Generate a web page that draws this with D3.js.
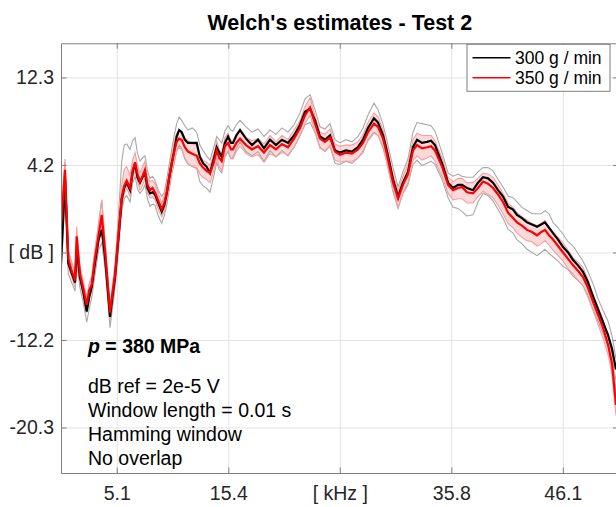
<!DOCTYPE html>
<html>
<head>
<meta charset="utf-8">
<script src="https://cdn.jsdelivr.net/npm/d3@7"></script>
<style>
  body { margin: 0; background: #fff; }
  svg text { font-family: "Liberation Sans", Arial, Helvetica, sans-serif; fill: #262626; }
</style>
</head>
<body>
<svg id="chart"></svg>
<script>
// frequency grid [kHz]
const freqs = [
  0.00, 0.37, 0.67, 0.98, 1.29, 1.44, 1.74, 2.05, 2.36, 2.60,
  2.82, 3.12, 3.45, 3.74, 4.04, 4.30, 4.50, 4.73, 4.96, 5.26,
  5.57, 5.80, 6.03, 6.34, 6.57, 6.80, 7.03, 7.25, 7.48, 7.71,
  7.94, 8.17, 8.40, 8.63, 8.94, 9.25, 9.48, 9.71, 9.94, 10.17,
  10.40, 10.62, 10.85, 11.08, 11.37, 11.66, 12.06, 12.46, 12.75, 13.04,
  13.36, 13.68, 14.00, 14.30, 14.53, 14.76, 15.05, 15.34, 15.60, 15.79,
  16.10, 16.44, 16.99, 17.54, 18.09, 18.64, 19.19, 19.74, 20.29, 20.84,
  21.40, 21.95, 22.41, 22.87, 23.32, 23.78, 24.24, 24.70, 25.16, 25.62,
  26.17, 26.72, 27.27, 27.73, 28.19, 28.74, 29.11, 29.57, 29.91, 30.49,
  30.95, 31.40, 31.86, 32.32, 32.69, 33.15, 33.61, 33.98, 34.34, 34.99,
  35.54, 36.00, 36.46, 36.82, 37.28, 37.83, 38.29, 38.75, 39.21, 39.67,
  40.13, 40.59, 41.05, 41.51, 41.87, 42.33, 42.79, 43.25, 43.71, 44.08,
  44.44, 44.81, 45.18, 45.64, 46.10, 46.56, 47.02, 47.47, 47.93, 48.39,
  48.85, 49.31, 49.77, 50.23, 50.60, 50.96
];

// mean Welch estimate, 300 g/min [dB]
const mean300 = [
  -5.0, 2.8, -5.0, -5.9, -6.8, -3.7, -6.3, -7.7, -9.5, -8.1,
  -7.2, -5.0, -2.8, -1.9, -4.4, -7.5, -10.0, -8.1, -6.3, -2.8,
  0.9, 2.0, 2.5, 1.8, 3.4, 4.3, 3.0, 2.5, 3.0, 3.4,
  2.0, 1.5, 1.6, 1.4, 0.6, -0.2, 0.4, 1.5, 3.0, 4.3,
  5.5, 6.8, 7.4, 7.2, 6.5, 6.2, 6.2, 6.2, 4.9, 4.3,
  4.0, 3.4, 4.6, 5.8, 5.3, 4.9, 6.2, 6.8, 6.2, 6.2,
  6.9, 7.4, 6.6, 6.0, 6.5, 5.7, 6.5, 6.0, 6.5, 6.2,
  6.9, 7.9, 9.1, 9.4, 8.3, 6.8, 6.5, 6.9, 5.5, 5.3,
  5.5, 5.4, 5.8, 6.5, 7.6, 8.5, 8.1, 6.9, 5.5, 2.8,
  1.2, 2.5, 3.5, 5.8, 6.5, 6.2, 6.3, 6.4, 6.0, 4.3,
  2.5, 2.0, 2.3, 2.3, 2.0, 1.8, 2.5, 3.0, 2.9, 2.5,
  1.8, 1.2, 0.25, 0.0, -0.5, -0.8, -1.2, -1.4, -1.6, -1.4,
  -1.2, -1.7, -2.2, -2.8, -3.5, -4.0, -4.7, -5.2, -5.8, -6.8,
  -8.1, -9.3, -10.5, -11.7, -13.0, -14.9
];

// mean Welch estimate, 350 g/min [dB]
const mean350 = [
  -1.6, 3.7, -4.6, -5.7, -6.6, -2.5, -6.0, -7.4, -8.9, -7.5,
  -7.0, -4.6, -2.4, -0.5, -3.8, -7.0, -9.6, -7.8, -6.1, -2.6,
  1.1, 2.2, 2.7, 2.0, 3.6, 4.4, 3.3, 2.6, 3.1, 3.7,
  2.3, 1.8, 2.0, 1.6, 0.8, 0.0, 0.6, 1.6, 3.0, 4.3,
  5.4, 6.3, 6.6, 6.5, 5.8, 5.4, 5.2, 5.0, 4.3, 3.9,
  3.6, 3.4, 4.3, 5.5, 4.8, 4.5, 5.9, 6.2, 5.6, 5.6,
  6.2, 6.6, 6.0, 5.6, 5.9, 5.3, 6.0, 5.6, 6.1, 5.8,
  6.6, 7.6, 8.8, 9.5, 8.0, 6.6, 6.3, 6.7, 5.4, 5.1,
  5.3, 5.2, 5.6, 6.2, 7.2, 8.0, 7.7, 6.6, 5.2, 2.5,
  1.0, 2.3, 3.3, 5.5, 6.0, 5.7, 5.8, 5.9, 5.5, 4.0,
  2.3, 1.8, 2.0, 2.1, 1.6, 1.5, 2.0, 2.6, 2.4, 2.0,
  1.4, 0.7, -0.3, -0.8, -1.2, -1.5, -1.9, -2.1, -2.4, -2.1,
  -1.9, -2.4, -2.8, -3.4, -4.0, -4.6, -5.2, -5.7, -6.3, -7.3,
  -8.6, -9.8, -11.0, -12.6, -14.4, -18.2
];

// spread of the single 300 g/min runs above / below their mean [dB]
const grayUp = [
  2.5, 1.6, 1.2, 1.0, 0.9, 1.4, 1.0, 0.9, 1.0, 1.2,
  1.0, 1.2, 1.5, 2.8, 1.6, 1.0, 0.8, 1.0, 1.2, 2.0,
  3.5, 4.0, 3.6, 3.8, 3.0, 2.4, 2.2, 2.0, 1.8, 1.6,
  1.6, 1.4, 1.5, 1.3, 1.2, 1.4, 1.2, 1.3, 1.2, 1.3,
  1.4, 1.2, 1.2, 1.1, 1.3, 1.2, 1.4, 1.0, 1.1, 1.2,
  1.0, 1.2, 1.1, 1.0, 1.2, 1.3, 1.1, 1.0, 1.2, 1.1,
  1.0, 0.9, 1.1, 1.2, 1.0, 1.1, 0.9, 1.0, 1.1, 1.0,
  1.0, 1.1, 1.2, 1.3, 1.0, 0.9, 1.0, 1.1, 1.0, 0.9,
  1.0, 0.9, 1.0, 1.1, 1.2, 1.4, 1.2, 1.0, 1.0, 1.1,
  0.9, 1.0, 1.2, 1.4, 1.6, 1.8, 1.6, 1.4, 1.3, 1.0,
  0.9, 1.1, 1.0, 0.8, 1.0, 1.2, 1.0, 0.9, 1.0, 1.1,
  1.0, 0.9, 1.0, 1.1, 1.2, 1.0, 1.1, 1.0, 1.2, 1.0,
  1.1, 1.3, 1.0, 1.1, 1.2, 1.0, 1.3, 1.1, 1.0, 1.0,
  1.2, 1.0, 1.1, 1.3, 1.2, 1.0
];
const grayDn = [
  1.5, 1.5, 1.0, 0.9, 0.8, 1.2, 1.0, 1.0, 1.0, 1.1,
  1.0, 1.1, 1.0, 1.2, 1.0, 1.0, 1.0, 1.1, 1.0, 1.2,
  1.1, 1.0, 1.2, 1.1, 1.0, 1.2, 1.1, 1.0, 1.2, 1.1,
  1.0, 1.2, 1.1, 1.0, 1.2, 1.1, 1.0, 1.1, 1.2, 1.0,
  1.2, 1.3, 1.4, 1.5, 1.8, 2.0, 2.2, 2.4, 2.3, 2.1,
  2.0, 1.8, 1.6, 1.4, 1.6, 1.5, 1.3, 1.4, 1.5, 1.3,
  1.2, 1.1, 1.2, 1.0, 1.1, 1.2, 1.0, 1.1, 1.0, 1.2,
  1.1, 1.0, 1.2, 1.3, 1.1, 1.0, 1.1, 1.0, 1.2, 1.1,
  1.0, 1.1, 1.0, 1.2, 1.1, 1.3, 1.2, 1.1, 1.0, 1.2,
  1.1, 1.0, 1.2, 1.6, 1.9, 2.1, 2.0, 1.9, 1.8, 1.5,
  1.4, 1.8, 2.2, 2.5, 2.6, 2.3, 1.8, 1.5, 1.6, 1.7,
  1.8, 2.0, 2.1, 2.2, 2.3, 2.4, 2.5, 2.6, 2.7, 2.6,
  2.5, 2.4, 2.2, 2.0, 1.8, 1.6, 1.5, 1.4, 1.3, 1.2,
  1.2, 1.1, 1.0, 1.0, 1.0, 1.0
];

// spread of the single 350 g/min runs above / below their mean [dB]
const pinkUp = [
  1.2, 1.0, 0.8, 0.6, 0.7, 0.9, 0.6, 0.7, 0.8, 0.6,
  0.7, 0.8, 0.9, 1.4, 0.8, 0.7, 0.6, 0.7, 0.8, 0.9,
  1.2, 1.5, 1.3, 1.2, 1.0, 0.9, 0.8, 0.8, 0.9, 0.8,
  0.7, 0.8, 0.7, 0.8, 0.7, 0.6, 0.7, 0.8, 0.7, 0.8,
  0.9, 0.8, 0.7, 0.8, 0.9, 1.0, 0.9, 1.0, 0.8, 0.7,
  0.8, 0.7, 0.8, 0.9, 0.8, 0.7, 0.8, 0.9, 0.8, 0.7,
  0.8, 0.9, 0.7, 0.8, 0.7, 0.8, 0.9, 0.7, 0.8, 0.7,
  0.8, 0.7, 0.8, 0.9, 0.7, 0.6, 0.7, 0.8, 0.7, 0.8,
  0.7, 0.8, 0.7, 0.8, 0.9, 1.0, 0.9, 0.8, 0.7, 0.8,
  0.7, 0.8, 0.9, 1.0, 1.1, 1.2, 1.1, 1.0, 0.9, 0.8,
  0.7, 0.8, 0.9, 0.8, 0.9, 1.0, 0.9, 0.8, 0.9, 1.0,
  0.9, 0.8, 0.9, 1.0, 0.9, 0.8, 0.9, 0.8, 0.9, 0.8,
  0.9, 0.8, 0.7, 0.8, 0.9, 0.8, 0.7, 0.8, 0.9, 0.8,
  0.7, 0.8, 0.7, 0.8, 0.9, 1.0
];
const pinkDn = [
  1.0, 1.2, 0.7, 0.6, 0.6, 1.0, 0.7, 0.6, 0.7, 0.8,
  0.6, 0.7, 0.8, 0.9, 0.7, 0.6, 0.7, 0.6, 0.7, 0.8,
  0.7, 0.8, 0.7, 0.8, 0.7, 0.8, 0.7, 0.8, 0.9, 0.8,
  0.8, 0.7, 0.8, 0.7, 0.8, 0.7, 0.8, 0.7, 0.8, 0.7,
  0.8, 0.9, 0.8, 0.9, 1.0, 1.1, 1.2, 1.1, 1.0, 0.9,
  0.8, 0.9, 0.8, 0.7, 0.8, 0.9, 0.8, 0.7, 0.8, 0.9,
  0.8, 0.7, 0.8, 0.7, 0.8, 0.9, 0.8, 0.7, 0.8, 0.7,
  0.8, 0.7, 0.8, 0.7, 0.8, 0.9, 0.8, 0.7, 0.8, 0.7,
  0.8, 0.7, 0.8, 0.7, 0.8, 0.9, 0.8, 0.9, 0.8, 0.7,
  0.8, 0.7, 0.8, 0.9, 1.0, 1.1, 1.0, 0.9, 1.0, 0.9,
  0.8, 0.9, 1.0, 1.1, 1.0, 0.9, 0.8, 0.9, 1.0, 0.9,
  1.0, 1.1, 1.0, 0.9, 1.0, 1.1, 1.0, 0.9, 1.0, 1.1,
  1.0, 0.9, 1.0, 0.9, 0.8, 0.9, 0.8, 0.9, 0.8, 0.9,
  0.8, 0.9, 1.0, 0.9, 1.0, 1.0
];

const xTicks = [5.12, 15.36, 25.6, 35.84, 46.08];
const xTickLabels = ["5.1", "15.4", "[ kHz ]", "35.8", "46.1"];
const yTicks = [12.3, 4.15, -4.0, -12.15, -20.3];
const yTickLabels = ["12.3", "4.2", "[ dB ]", "-12.2", "-20.3"];

const seriesNames = ["300 g / min", "350 g / min"];
const notes = ["dB ref = 2e-5 V", "Window length = 0.01 s", "Hamming window", "No overlap"];

class WelchChart {
    constructor(_config) {
        this.config = {
            parentElement: _config.parentElement,
            containerWidth: _config.containerWidth || 616,
            containerHeight: _config.containerHeight || 507,
            margin: { top: 43.3, bottom: 34, right: -2.6, left: 61 }
        }
        this.initVis();
    }

    initVis() {
        let vis = this;
        vis.width = vis.config.containerWidth - vis.config.margin.left - vis.config.margin.right;
        vis.height = vis.config.containerHeight - vis.config.margin.top - vis.config.margin.bottom;

        vis.xScale = d3.scaleLinear().domain([0, 51.2]).range([0, vis.width]);
        vis.yScale = d3.scaleLinear().domain([-24.54, 15.48]).range([vis.height, 0]);

        vis.svg = d3.select(vis.config.parentElement)
            .attr("width", vis.config.containerWidth)
            .attr("height", vis.config.containerHeight);

        vis.chart = vis.svg.append("g")
            .attr("transform", `translate(${vis.config.margin.left},${vis.config.margin.top})`);

        vis.chart.append("clipPath").attr("id", "plot-clip")
            .append("rect").attr("width", vis.width).attr("height", vis.height);

        // grid
        vis.chart.append("g")
            .attr("class", "grid")
            .attr("transform", `translate(0,${vis.height})`)
            .call(d3.axisBottom(vis.xScale).tickValues(xTicks).tickSize(-vis.height).tickFormat(""));
        vis.chart.append("g")
            .attr("class", "grid")
            .call(d3.axisLeft(vis.yScale).tickValues(yTicks).tickSize(-vis.width).tickFormat(""));
        vis.chart.selectAll(".grid .domain").remove();

        vis.renderVis();
    }

    renderVis() {
        let vis = this;
        const lineOf = arr => d3.line()
            .x((d, i) => vis.xScale(freqs[i]))
            .y((d, i) => vis.yScale(arr[i]))(freqs);

        const plot = vis.chart.append("g").attr("clip-path", "url(#plot-clip)");

        const gray = [mean300.map((v, i) => v + grayUp[i]), mean300.map((v, i) => v - grayDn[i])];
        const pink = [mean350.map((v, i) => v + pinkUp[i]), mean350.map((v, i) => v - pinkDn[i])];

        plot.append("path")
            .attr("d", d3.area()
                .x((d, i) => vis.xScale(freqs[i]))
                .y0((d, i) => vis.yScale(pink[1][i]))
                .y1((d, i) => vis.yScale(pink[0][i]))(freqs))
            .attr("fill", "#ff0000")
            .attr("fill-opacity", 0.15);

        plot.selectAll(".run-gray")
            .data(gray)
            .join("path")
            .attr("class", "run-gray")
            .attr("d", d => lineOf(d))
            .attr("fill", "none")
            .attr("stroke", "#a8a8a8")
            .attr("stroke-width", 1.1);

        plot.selectAll(".run-pink")
            .data(pink)
            .join("path")
            .attr("class", "run-pink")
            .attr("d", d => lineOf(d))
            .attr("fill", "none")
            .attr("stroke", "#f4a0a0")
            .attr("stroke-width", 1.1);

        plot.append("path")
            .attr("d", lineOf(mean300))
            .attr("fill", "none")
            .attr("stroke", "#000")
            .attr("stroke-width", 2.2);

        plot.append("path")
            .attr("d", lineOf(mean350))
            .attr("fill", "none")
            .attr("stroke", "#ff0000")
            .attr("stroke-width", 2.2);

        // axes (ticks pointing in, MATLAB box)
        const axisColor = "#7f7f7f";
        vis.xAxisG = vis.chart.append("g")
            .attr("transform", `translate(0,${vis.height})`)
            .call(d3.axisBottom(vis.xScale).tickValues(xTicks)
                .tickFormat((d, i) => xTickLabels[i])
                .tickSizeInner(-5.5).tickSizeOuter(0).tickPadding(13));
        vis.yAxisG = vis.chart.append("g")
            .call(d3.axisLeft(vis.yScale).tickValues(yTicks)
                .tickFormat((d, i) => yTickLabels[i])
                .tickSizeInner(-5.5).tickSizeOuter(0).tickPadding(7));
        vis.chart.append("g")
            .call(d3.axisTop(vis.xScale).tickValues(xTicks).tickFormat("").tickSizeInner(-5.5).tickSizeOuter(0));
        vis.chart.append("g")
            .attr("transform", `translate(${vis.width},0)`)
            .call(d3.axisRight(vis.yScale).tickValues(yTicks).tickFormat("").tickSizeInner(-5.5).tickSizeOuter(0));

        vis.chart.selectAll(".domain, .tick line").attr("stroke", axisColor);
        vis.chart.selectAll(".grid line").attr("stroke", "#e3e3e3");
        vis.chart.selectAll(".tick text")
            .attr("font-family", "Liberation Sans, Arial, Helvetica, sans-serif")
            .attr("font-size", 19.5)
            .attr("fill", "#262626");

        // title
        vis.svg.append("text")
            .attr("x", vis.config.margin.left + vis.width / 2)
            .attr("y", 30)
            .attr("text-anchor", "middle")
            .style("font-size", "21.5px")
            .style("font-weight", "bold")
            .style("fill", "#000")
            .text("Welch's estimates - Test 2");

        // annotation
        const pText = vis.chart.append("text")
            .attr("x", vis.xScale(2.48))
            .attr("y", vis.yScale(-13.4))
            .style("font-size", "19.5px")
            .style("font-weight", "bold")
            .style("fill", "#000");
        pText.append("tspan").style("font-style", "italic").text("p");
        pText.append("tspan").text(" = 380 MPa");

        vis.chart.selectAll(".note")
            .data(notes)
            .join("text")
            .attr("class", "note")
            .attr("x", vis.xScale(2.48))
            .attr("y", (d, i) => vis.yScale(-17.1) + i * 24)
            .style("font-size", "19.5px")
            .style("fill", "#000")
            .text(d => d);

        // legend
        const lg = vis.svg.append("g").attr("transform", "translate(467,44.3)");
        lg.append("rect")
            .attr("width", 143).attr("height", 47)
            .attr("fill", "#fff").attr("stroke", axisColor);
        lg.selectAll(".lg-line")
            .data(seriesNames)
            .join("line")
            .attr("x1", 5.5).attr("x2", 43.5)
            .attr("y1", (d, i) => 13.4 + i * 20).attr("y2", (d, i) => 13.4 + i * 20)
            .attr("stroke", (d, i) => i === 0 ? "#000" : "#ff0000")
            .attr("stroke-width", 1.5);
        lg.selectAll(".lg-text")
            .data(seriesNames)
            .join("text")
            .attr("x", 48)
            .attr("y", (d, i) => 13.4 + i * 20)
            .attr("dy", "0.35em")
            .style("font-size", "17.5px")
            .style("fill", "#000")
            .text(d => d);
    }
}

new WelchChart({ parentElement: "#chart" });
</script>
</body>
</html>
